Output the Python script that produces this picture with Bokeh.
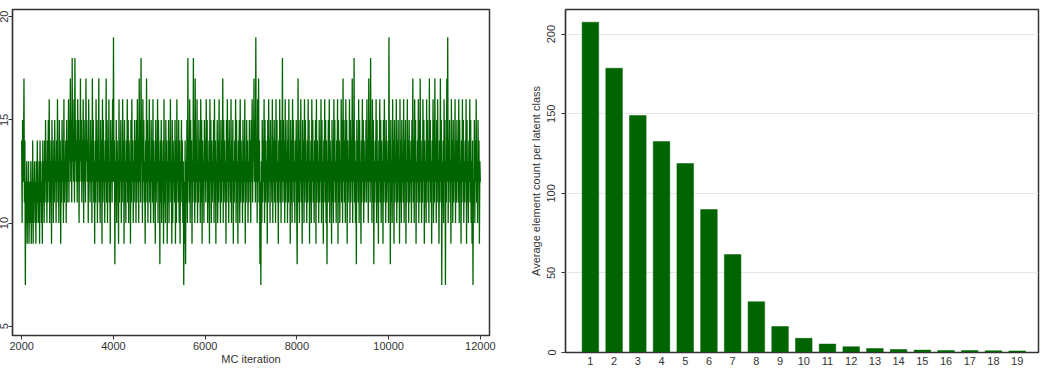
import numpy as np
from bokeh.plotting import figure
from bokeh.layouts import row, column
from bokeh.models import FixedTicker, Range1d
from bokeh.embed import file_html
from bokeh.resources import INLINE

# ---- Left panel: MC trace of number of latent classes ----
trace_values = [
    14,10,15,12,13,17,11,14,7,12,10,13,9,12,10,13,9,11,12,10,13,9,12,10,14,9,12,11,13,10,12,9,13,10,14,11,12,10,13,9,14,11,13,10,12,9,14,11,13,10,
    14,11,15,12,13,10,14,11,15,12,16,10,13,11,14,9,15,12,13,10,14,11,15,12,13,10,14,12,16,11,13,10,15,12,14,9,13,11,15,12,14,10,16,11,13,12,14,10,15,11,
    14,12,16,11,15,13,17,12,15,11,18,13,14,12,16,11,18,13,15,12,14,11,16,12,15,10,14,12,17,13,15,11,14,12,16,10,15,12,14,11,17,13,15,12,14,10,16,12,13,11,
    15,12,14,10,17,12,15,11,13,9,14,11,16,12,15,10,14,12,17,11,13,10,15,12,14,9,16,11,15,12,13,10,14,12,17,11,15,10,14,12,16,11,13,9,15,12,14,11,16,12,
    19,12,14,8,13,11,15,10,14,12,13,9,16,11,14,12,15,10,13,11,16,12,14,9,15,11,13,10,14,12,16,11,15,10,14,12,13,9,15,11,16,12,14,10,13,11,15,12,14,10,
    15,11,16,12,14,10,17,12,15,11,18,13,14,10,16,12,15,11,13,9,14,12,17,11,15,10,14,12,16,11,13,10,15,12,14,11,16,10,14,12,13,9,15,11,14,12,16,10,15,12,
    13,8,14,11,15,10,13,12,14,9,16,11,13,10,15,12,14,9,13,11,15,10,14,12,16,11,13,9,15,10,14,12,13,11,15,9,14,10,16,12,13,11,15,10,14,9,13,12,15,11,
    14,10,13,7,12,9,14,8,13,11,15,10,18,12,14,11,16,10,15,12,14,9,13,11,18,12,15,10,17,11,14,12,16,10,13,11,15,12,14,10,16,11,15,9,14,12,13,10,15,12,
    14,11,16,12,15,10,13,11,14,9,16,12,15,10,14,11,13,12,15,10,16,11,14,9,13,12,15,10,14,11,16,12,13,10,15,11,14,12,17,10,15,11,14,12,13,9,15,11,16,12,
    14,10,15,12,13,11,16,10,14,12,15,9,13,11,14,12,16,10,15,11,13,9,14,12,15,10,16,11,14,12,13,10,15,11,14,12,16,9,13,11,15,12,14,10,13,11,15,12,14,10,
    15,12,16,11,14,13,17,12,15,11,19,12,14,10,16,12,17,11,14,8,12,7,13,10,15,11,14,12,16,10,15,11,14,12,13,9,15,11,16,12,14,10,15,12,13,11,16,10,14,12,
    15,11,14,10,16,12,15,11,13,9,14,12,16,11,15,10,14,12,18,11,15,12,14,10,16,11,13,12,15,10,14,11,16,12,13,9,15,11,14,10,16,12,15,11,13,10,14,12,15,11,
    8,12,17,11,15,10,14,12,16,11,13,9,15,12,14,10,16,11,15,12,13,10,14,11,16,12,15,9,13,11,14,10,16,12,15,11,13,10,14,12,15,9,16,11,14,12,13,10,15,11,
    14,12,16,10,15,11,13,9,14,12,16,11,15,10,14,8,13,12,15,11,16,10,14,12,13,9,15,11,14,10,16,12,15,11,13,10,14,12,16,9,15,11,14,10,13,12,16,11,15,10,
    17,12,15,11,14,10,16,12,15,9,14,11,13,12,16,10,15,11,14,12,17,10,15,12,18,11,14,10,13,8,15,12,14,11,16,10,15,12,13,9,14,11,16,12,15,10,14,11,13,12,
    15,11,16,12,14,10,17,12,15,11,18,12,14,10,16,11,15,8,13,11,14,12,16,10,15,11,13,9,14,12,16,11,15,10,14,12,13,9,15,11,16,12,14,10,15,11,13,12,14,10,
    19,12,14,8,15,11,13,10,16,12,14,9,15,11,13,12,16,10,14,11,15,12,13,9,16,11,14,10,15,12,13,11,16,10,14,12,15,9,13,11,16,12,14,10,15,11,13,12,14,10,
    15,12,17,11,14,10,16,12,15,9,13,11,14,12,16,10,15,11,17,12,14,10,13,11,16,12,15,9,14,11,13,10,16,12,15,11,14,10,17,12,15,11,13,9,14,12,16,10,15,11,
    17,12,14,10,15,11,16,12,13,9,14,11,17,12,15,7,13,11,14,10,16,12,15,7,13,11,17,12,19,10,14,12,15,11,13,9,16,12,14,10,15,11,13,12,16,10,14,11,15,12,
    14,11,16,10,15,12,13,9,14,11,16,12,15,10,13,11,14,12,16,9,15,11,13,10,14,12,16,11,15,10,13,9,14,7,12,11,15,10,14,12,16,11,13,10,15,12,14,9,13,12,
]
iter_start, iter_end = 2000, 12000
iterations = np.linspace(iter_start, iter_end, len(trace_values))
left_xticks = [2000, 4000, 6000, 8000, 10000, 12000]
left_yticks = [5, 10, 15, 20]

# ---- Right panel: average element count per latent class ----
classes = list(range(1, 20))
avg_counts = [207.5, 178.6, 148.9, 132.5, 118.7, 89.8, 61.5, 31.9, 16.3, 8.9,
              5.3, 3.6, 2.5, 1.9, 1.5, 1.3, 1.2, 1.1, 1.0]
right_yticks = [0, 50, 100, 150, 200]

GREEN = "#006400"
FRAME = "#333333"
TXT = "#333333"
FONT = "Liberation Sans"


def style_axes(p):
    for ax in p.axis:
        ax.axis_line_color = FRAME
        ax.axis_line_width = 1.2
        ax.major_tick_line_color = FRAME
        ax.major_tick_in = 0
        ax.major_tick_out = 4
        ax.minor_tick_line_color = None
        ax.major_label_text_font = FONT
        ax.major_label_text_font_size = "11px"
        ax.major_label_text_color = TXT
        ax.axis_label_text_font = FONT
        ax.axis_label_text_font_size = "11px"
        ax.axis_label_text_color = TXT
        ax.axis_label_text_font_style = "normal"
    p.outline_line_color = FRAME
    p.outline_line_width = 1.5
    p.outline_line_alpha = 1.0


p1 = figure(width=524, height=372, output_backend="svg", toolbar_location=None,
            x_range=Range1d(1800, 12200), y_range=Range1d(4.55, 20.35),
            min_border_left=16, min_border_right=31, min_border_top=9, min_border_bottom=37)
p1.line(iterations, trace_values, line_color=GREEN, line_width=1.3)
p1.xgrid.visible = False
p1.ygrid.visible = False
p1.xaxis.ticker = FixedTicker(ticks=left_xticks)
p1.yaxis.ticker = FixedTicker(ticks=left_yticks)
p1.xaxis.axis_label = "MC iteration"
style_axes(p1)
p1.yaxis.major_label_orientation = "vertical"
p1.yaxis.major_label_standoff = 0
p1.xaxis.major_label_standoff = 2
p1.xaxis.axis_label_standoff = 0

p2 = figure(width=525, height=372, output_backend="svg", toolbar_location=None,
            x_range=Range1d(-0.05, 19.9), y_range=Range1d(0, 215.5),
            min_border_left=45, min_border_right=7, min_border_top=9, min_border_bottom=20)
p2.vbar(x=classes, top=avg_counts, width=0.7, fill_color=GREEN, line_color=GREEN, line_width=0.5)
p2.xgrid.visible = False
p2.ygrid.grid_line_color = "#e6e6e6"
p2.ygrid.grid_line_width = 1
p2.xaxis.ticker = FixedTicker(ticks=classes)
p2.yaxis.ticker = FixedTicker(ticks=right_yticks)
p2.yaxis.axis_label = "Average element count per latent class"
style_axes(p2)
p2.xaxis.major_tick_out = 0
p2.xaxis.major_label_standoff = 4
p2.yaxis.major_label_orientation = "vertical"
p2.yaxis.major_label_standoff = 6
p2.yaxis.axis_label_standoff = 3

layout = row(column(p1), column(p2), spacing=0)
layout.styles = {"margin-left": "-4px"}
open("out.html", "w").write(file_html(layout, INLINE))
